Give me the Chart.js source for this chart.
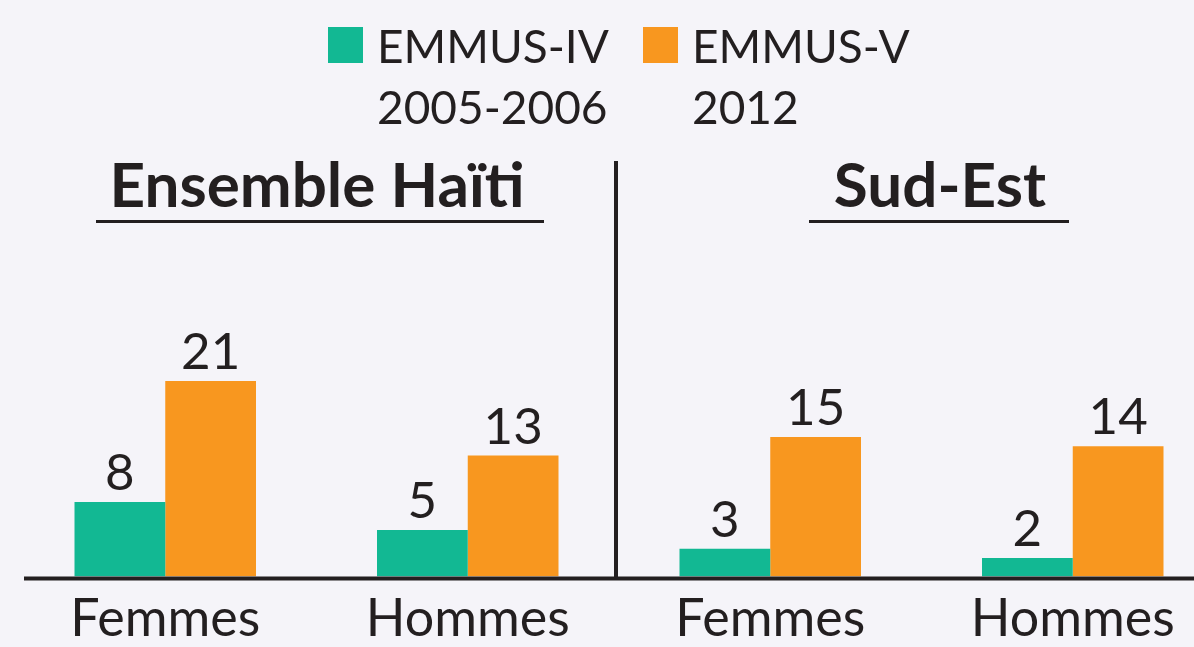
<!DOCTYPE html>
<html>
<head>
<meta charset="utf-8">
<script src="https://cdn.jsdelivr.net/npm/chart.js@4"></script>
<style>
  html, body { margin: 0; padding: 0; background: #f5f4f9; overflow: hidden; }
  #wrap { position: relative; width: 1194px; height: 647px; overflow: hidden; }
  #chart { position: absolute; left: 0; top: 0; }
</style>
</head>
<body>
<div id="wrap"><canvas id="chart" width="1240" height="647"></canvas></div>
<script>
// categories (two panels: Ensemble Haïti | Sud-Est)
var categories = ['Femmes', 'Hommes', 'Femmes', 'Hommes'];
var panels = ['Ensemble Haïti', 'Sud-Est'];
// series
var emmus4 = [8, 5, 3, 2];
var emmus5 = [21, 13, 15, 14];
var seriesNames = [['EMMUS-IV', '2005-2006'], ['EMMUS-V', '2012']];

var teal = '#12b893', orange = '#f8971f', ink = '#231f20';

var decorations = {
  id: 'decorations',
  afterDatasetsDraw(chart) {
    let ctx = chart.ctx;
    let x = chart.scales.x;
    let bottom = chart.chartArea.bottom;
    ctx.save();
    ctx.fillStyle = ink;
    ctx.strokeStyle = ink;

    // value labels above bars
    ctx.font = '51px Lato';
    ctx.textAlign = 'center';
    ctx.textBaseline = 'alphabetic';
    chart.data.datasets.forEach(function (ds, di) {
      chart.getDatasetMeta(di).data.forEach(function (bar, i) {
        ctx.fillText(String(ds.data[i]), bar.x, bar.y - 12);
      });
    });

    // baseline
    ctx.lineWidth = 4;
    ctx.beginPath();
    ctx.moveTo(24, bottom + 2);
    ctx.lineTo(1240, bottom + 2);
    ctx.stroke();

    // divider between panels
    let mid = x.getPixelForValue(1.5) - 3;
    ctx.beginPath();
    ctx.moveTo(mid, 161);
    ctx.lineTo(mid, bottom + 2);
    ctx.stroke();

    // panel titles
    ctx.font = 'bold 62px Lato';
    ctx.fillText(panels[0], 317, 207);
    ctx.fillText(panels[1], 940, 207);
    ctx.lineWidth = 3;
    ctx.beginPath();
    ctx.moveTo(96, 221.5); ctx.lineTo(544, 221.5);
    ctx.moveTo(809, 221.5); ctx.lineTo(1069, 221.5);
    ctx.stroke();

    // legend
    ctx.font = '46px Lato';
    ctx.textAlign = 'left';
    let lx = [328, 643];
    [teal, orange].forEach(function (c, k) {
      ctx.fillStyle = c;
      ctx.fillRect(lx[k], 27, 35, 36);
      ctx.fillStyle = ink;
      ctx.fillText(seriesNames[k][0], lx[k] + 49, 63);
      ctx.fillText(seriesNames[k][1], lx[k] + 49, 124);
    });
    ctx.restore();
  }
};

new Chart(document.getElementById('chart'), {
  type: 'bar',
  data: {
    labels: categories,
    datasets: [
      { label: seriesNames[0].join(' '), data: emmus4, backgroundColor: teal },
      { label: seriesNames[1].join(' '), data: emmus5, backgroundColor: orange }
    ]
  },
  options: {
    responsive: false,
    animation: false,
    layout: { padding: { top: 232, left: 14, right: 16, bottom: -14 } },
    categoryPercentage: 0.6,
    barPercentage: 1.0,
    plugins: { legend: { display: false }, tooltip: { enabled: false } },
    scales: {
      x: {
        grid: { display: false, drawTicks: false },
        border: { display: false },
        ticks: { color: ink, font: { family: 'Lato', size: 52 }, padding: 11 }
      },
      y: { display: false, min: 0, max: 37 }
    }
  },
  plugins: [decorations]
});
</script>
</body>
</html>
